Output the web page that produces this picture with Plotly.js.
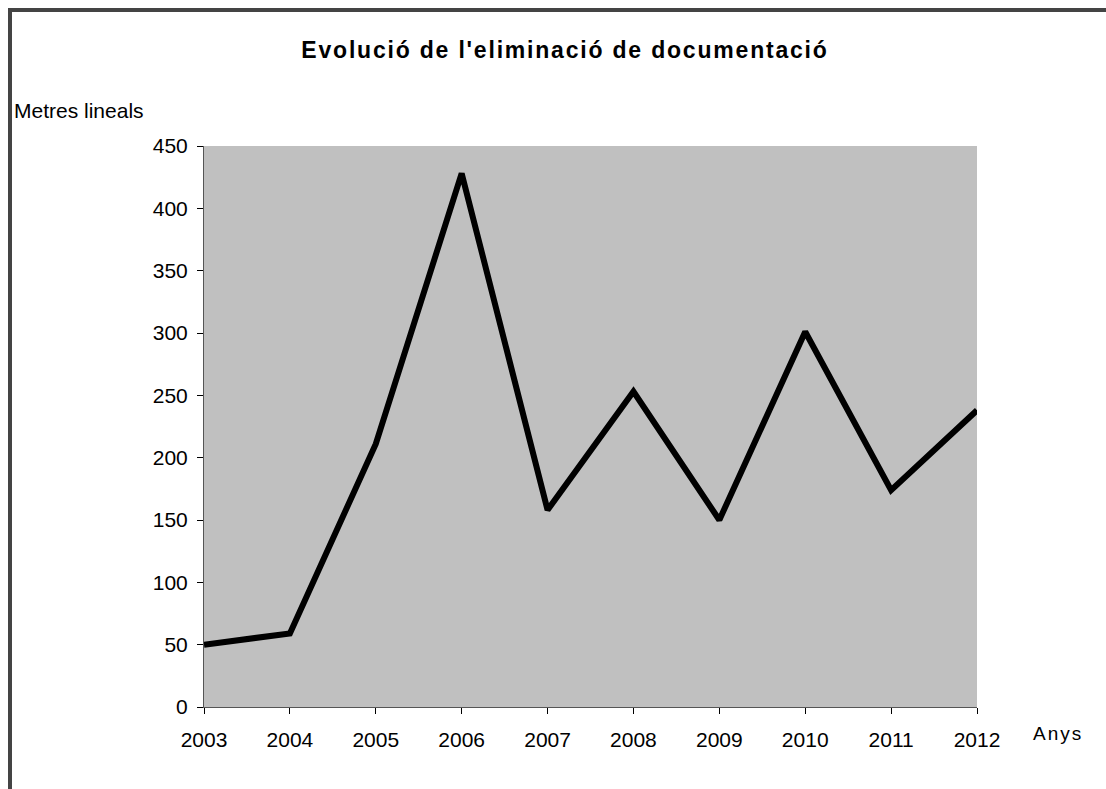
<!DOCTYPE html>
<html>
<head>
<meta charset="utf-8">
<script src="https://cdn.plot.ly/plotly-3.0.1.min.js"></script>
<style>
html,body{margin:0;padding:0;background:#fff;}
#chart{width:1106px;height:789px;}
#chart .gtitle{letter-spacing:1.8px;}
#chart g.annotation[data-index="1"] text{letter-spacing:2px;}
</style>
</head>
<body>
<div id="chart"></div>
<script>
const years = [2003, 2004, 2005, 2006, 2007, 2008, 2009, 2010, 2011, 2012];
const metres = [50, 59, 211, 428, 158, 253, 150, 301, 174, 238];
const yTicks = [0, 50, 100, 150, 200, 250, 300, 350, 400, 450];
const chartTitle = "Evolució de l'eliminació de documentació";
const yTitle = "Metres lineals";
const xTitle = "Anys";

const W = 1106, H = 789;
const L = 204, R = 977, T = 146, B = 707;
const pw = R - L, ph = B - T;
const px = x => (x - L) / pw;
const py = y => (B - y) / ph;
const FONT = 'Liberation Sans, Arial, sans-serif';

const trace = {
  x: years, y: metres, type: 'scatter', mode: 'lines',
  line: {color: '#000000', width: 6, shape: 'linear'},
  hoverinfo: 'skip'
};

const layout = {
  width: W, height: H,
  margin: {l: L, r: W - R, t: T, b: H - B, pad: 0},
  paper_bgcolor: '#ffffff',
  plot_bgcolor: '#c0c0c0',
  showlegend: false,
  font: {family: FONT, color: '#000000', size: 21},
  title: {
    text: '<b>' + chartTitle + '</b>',
    font: {family: FONT, size: 23, color: '#000000'},
    x: 565 / W, xanchor: 'center', xref: 'container',
    y: 1 - 50 / H, yanchor: 'middle', yref: 'container'
  },
  xaxis: {
    range: [2003, 2012], tickmode: 'array', tickvals: years, ticktext: years.map(String),
    showgrid: false, zeroline: false, showline: true, linecolor: '#555555', linewidth: 1,
    ticks: 'outside', ticklen: 6, tickcolor: '#000000', tickwidth: 1,
    tickfont: {size: 21, family: FONT},
    ticklabelstandoff: 8, fixedrange: true
  },
  yaxis: {
    range: [0, 450], tickmode: 'array', tickvals: yTicks, ticktext: yTicks.map(String),
    showgrid: false, zeroline: false, showline: true, linecolor: '#555555', linewidth: 1,
    ticks: 'outside', ticklen: 6, tickcolor: '#000000', tickwidth: 1,
    tickfont: {size: 21, family: FONT},
    ticklabelstandoff: 5, fixedrange: true
  },
  annotations: [
    {text: yTitle, xref: 'paper', yref: 'paper', x: px(12), y: py(111),
     xanchor: 'left', yanchor: 'middle', showarrow: false,
     font: {size: 21, family: FONT}},
    {text: xTitle, xref: 'paper', yref: 'paper', x: px(1035), y: py(733),
     xanchor: 'left', yanchor: 'middle', showarrow: false,
     font: {size: 19, family: FONT}}
  ],
  shapes: [
    {type: 'path', xref: 'paper', yref: 'paper',
     path: 'M ' + px(10) + ' ' + py(800) + ' L ' + px(10) + ' ' + py(10) + ' L ' + px(1110) + ' ' + py(10),
     line: {color: '#444444', width: 4}}
  ]
};

Plotly.newPlot('chart', [trace], layout, {staticPlot: true, displayModeBar: false});
</script>
</body>
</html>
